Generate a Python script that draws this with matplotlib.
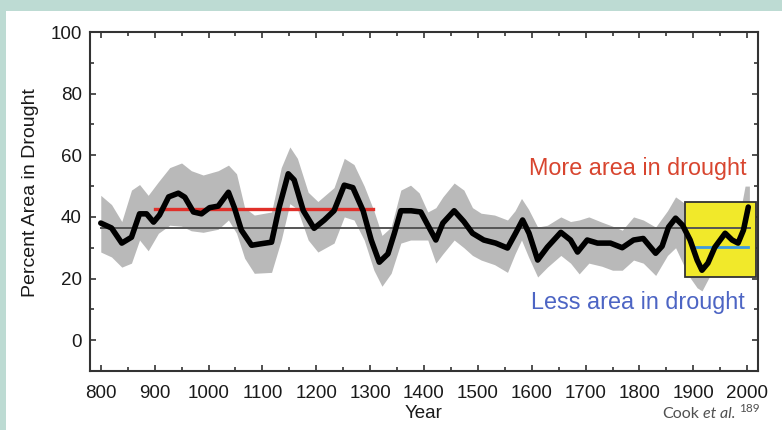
import matplotlib.pyplot as plt
from matplotlib.patches import Rectangle
from matplotlib.ticker import MultipleLocator

plt.rcParams['font.family'] = ['Liberation Sans', 'DejaVu Sans']

# Smoothed drought area (black curve)
years = [800, 820, 839, 857, 872, 885, 898, 909, 926, 944, 956, 972, 987, 1002, 1018,
         1037, 1048, 1061, 1080, 1098, 1117, 1131, 1148, 1159, 1176, 1196, 1215, 1233,
         1252, 1268, 1287, 1302, 1317, 1333, 1345, 1357, 1376, 1394, 1409, 1422, 1435,
         1456, 1474, 1490, 1511, 1533, 1555, 1570, 1583, 1595, 1611, 1629, 1654, 1672,
         1685, 1703, 1722, 1746, 1768, 1789, 1807, 1830, 1842, 1854, 1867, 1880, 1894,
         1907, 1916, 1927, 1940, 1959, 1972, 1983, 1993, 2002]
area = [38, 36.4, 31.5, 33.4, 41, 41, 38.3, 40.6, 46.5, 47.7, 46.4, 41.6, 41, 43, 43.5,
        48, 43, 35.7, 30.8, 31.3, 31.8, 43, 54, 52, 42, 36.3, 39, 42,
        50.3, 49.5, 42, 32.5, 25.3, 28, 34.7, 42, 42, 41.6, 36.7, 32.5, 38,
        42, 38.5, 34.7, 32.5, 31.5, 29.9, 34.7, 39, 34.7, 26, 30.2, 35, 32.5,
        28.6, 32.5, 31.5, 31.5, 30, 32.5, 33, 28.2, 30.5, 36.7, 39.6, 37.3, 32.5,
        26, 22.7, 25, 30.2, 34.7, 32.5, 31.5, 35.7, 43.2]

# Uncertainty band (grey)
band_years = [800, 820, 839, 857, 872, 888, 907, 928, 950, 968, 990, 1018, 1037, 1052,
              1067, 1085, 1117, 1135, 1151, 1165, 1185, 1203, 1233, 1252, 1270, 1289,
              1307, 1322, 1339, 1357, 1375, 1391, 1407, 1422, 1435, 1456, 1474, 1490,
              1506, 1531, 1555, 1569, 1581, 1594, 1611, 1629, 1654, 1672, 1688, 1706,
              1730, 1750, 1768, 1789, 1807, 1830, 1852, 1867, 1883, 1895, 1907, 1916,
              1940, 1960, 1983, 1996, 2004]
band_upper = [47, 44, 38.5, 48.7, 50.5, 47, 51.4, 56, 57.5, 55, 53.6, 55, 56.8, 54,
              43, 40.6, 41.6, 56, 62.7, 59, 48, 45, 49.5, 59, 57, 50,
              42, 34, 36.7, 48.7, 50.3, 47.8, 41.6, 43, 46.5, 51, 48.7, 43,
              41.2, 40.6, 39, 42, 46, 42.5, 36.7, 37.3, 40, 38.5, 39, 40,
              38.3, 37, 35.7, 40, 39, 36.7, 42, 46.5, 44.5, 40, 33, 30,
              37, 42, 38, 50, 50]
band_lower = [28.6, 27, 23.7, 25, 32.5, 29, 34.7, 37.3, 37, 35.5, 35, 36, 39, 34.7,
              26.6, 21.7, 22, 32.5, 44.3, 42.5, 32.5, 28.6, 31.5, 40, 39, 32.5,
              22.7, 17.5, 21.7, 31.5, 32.5, 32.5, 32.5, 25, 28, 32.5, 30, 27.5,
              26, 24.5, 22, 28, 32.5, 27, 20.5, 23.7, 27.5, 25, 21.5, 25,
              24, 22.7, 22.7, 26, 25, 21, 27.5, 30, 24, 20, 17, 16,
              24, 27, 25, 36, 38]

# reference levels
long_mean = 36.5
mca_years = [900, 1305]
mca_mean = 42.5
modern_years = [1896, 2002]
modern_mean = 30.2
box_x = [1885, 2016]
box_y = [20.5, 45]

fig = plt.figure(figsize=(7.82, 4.3), dpi=100)
fig.patch.set_facecolor('#bddbd3')
fig.patches.append(Rectangle((6 / 782, 0), 1, (430 - 11) / 430, transform=fig.transFigure,
                             facecolor='white', edgecolor='none', zorder=-5))

ax = fig.add_axes([90 / 782, 59 / 430, 668 / 782, 339 / 430])
ax.set_zorder(2)
ax.set_facecolor('white')

ax.fill_between(band_years, band_lower, band_upper, color='#b9b9b9', lw=0, zorder=1)
ax.add_patch(Rectangle((box_x[0], box_y[0]), box_x[1] - box_x[0], box_y[1] - box_y[0],
                       facecolor='#f1e92a', edgecolor='#333333', lw=1.3, zorder=2))
ax.plot([800, 2005], [long_mean, long_mean], color='#555555', lw=1.4, zorder=3)
ax.plot(mca_years, [mca_mean, mca_mean], color='#e0302a', lw=2.4, zorder=4)
ax.plot(modern_years, [modern_mean, modern_mean], color='#3d9be0', lw=2.0, zorder=4)
ax.plot(years, area, color='black', lw=4.0, solid_joinstyle='round',
        solid_capstyle='round', zorder=5)

ax.text(1797, 55.7, 'More area in drought', color='#d8452f', fontsize=16.8,
        ha='center', va='center', zorder=6)
ax.text(1797, 12.3, 'Less area in drought', color='#4d65c4', fontsize=16.8,
        ha='center', va='center', zorder=6)

ax.set_xlim(780, 2020)
ax.set_ylim(-10, 100)
ax.xaxis.set_major_locator(MultipleLocator(100))
ax.xaxis.set_minor_locator(MultipleLocator(50))
ax.yaxis.set_major_locator(MultipleLocator(20))
ax.yaxis.set_minor_locator(MultipleLocator(10))
ax.tick_params(which='both', direction='in', top=True, right=True, color='#333333',
               width=1.2)
ax.tick_params(which='major', length=4, labelsize=13.5, labelcolor='#1a1a1a')
ax.tick_params(axis='x', which='major', pad=10)
ax.tick_params(axis='y', which='major', pad=6)
ax.tick_params(which='minor', length=3)
for s in ax.spines.values():
    s.set_color('#333333')
    s.set_linewidth(1.5)

ax.set_xlabel('Year', fontsize=13.5, color='#1a1a1a', labelpad=2)
ax.set_ylabel('Percent Area in Drought', fontsize=14, color='#1a1a1a')
ax.yaxis.set_label_coords(-0.076, 0.525)

# source caption
fig.text(662 / 782, 1 - 418 / 430, 'Cook', fontsize=11.5, color='#505050',
         family='Lato', ha='left', va='baseline')
fig.text(703 / 782, 1 - 418 / 430, 'et al.', fontsize=11.5, color='#505050',
         family='Lato', style='italic', ha='left', va='baseline')
fig.text(739 / 782, 1 - 412 / 430, '189', fontsize=8.5, color='#505050',
         family='Lato', ha='left', va='baseline')

fig.savefig('out.png', dpi=100, facecolor=fig.get_facecolor())
